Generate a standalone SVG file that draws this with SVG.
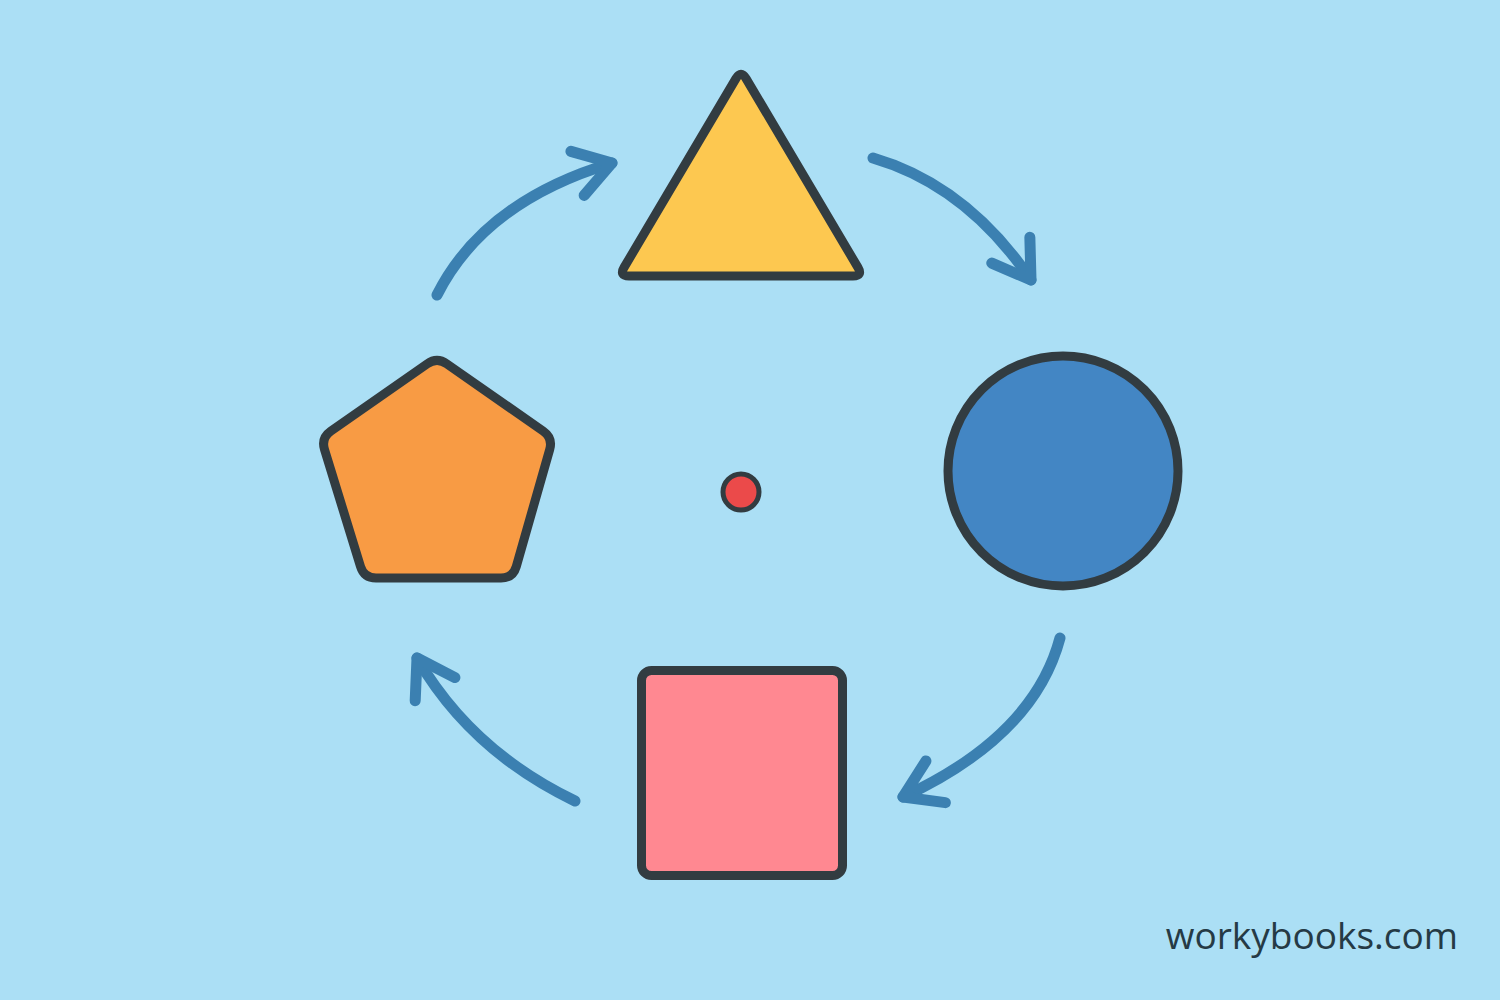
<svg xmlns="http://www.w3.org/2000/svg" width="1500" height="1000" viewBox="0 0 1500 1000">
  <defs>
    <style>
      .shape { stroke: #323c41; stroke-width: 9; stroke-linejoin: round; }
      .conn { fill: none; stroke: #3b80b1; stroke-width: 11; stroke-linecap: round; marker-end: url(#chev); }
      .brand { font-family: "Open Sans", "Noto Sans", "DejaVu Sans", sans-serif; font-size: 37px; fill: #253a45; }
    </style>
    <marker id="chev" markerUnits="userSpaceOnUse" orient="auto" refX="0" refY="0" markerWidth="100" markerHeight="100" viewBox="-50 -50 100 100" overflow="visible">
      <path d="M -36 -23 L 0 0 L -36 23" fill="none" stroke="#3b80b1" stroke-width="11" stroke-linecap="round" stroke-linejoin="round"/>
    </marker>
  </defs>
  <rect x="0" y="0" width="1500" height="1000" fill="#abdff5"/>

  <g id="connectors">
    <path class="conn" d="M 437 295 Q 484 201.5 612 163"/>
    <path class="conn" d="M 873 158 Q 967 185.5 1031 280"/>
    <path class="conn" d="M 1060 638 Q 1034 736 903 797"/>
    <path class="conn" d="M 575 801 Q 471 751 417 658"/>
  </g>

  <g id="triangle">
    <path class="shape" fill="#fdc850" d="M 746.1 78.6 L 857.9 267.4 Q 863 276 853 276 L 629 276 Q 619 276 624.1 267.4 L 735.9 78.6 Q 741 70 746.1 78.6 Z"/>
  </g>
  <g id="circle">
    <circle class="shape" fill="#4386c4" cx="1063" cy="471" r="115"/>
  </g>
  <g id="square">
    <rect class="shape" fill="#ff8891" x="641.5" y="670.5" width="201" height="205" rx="10"/>
  </g>
  <g id="pentagon">
    <path class="shape" fill="#f89b44" d="M 446.8 363.9 L 543.2 431.1 Q 553 438 549.7 449.5 L 516.3 566.5 Q 513 578 501 578 L 376 578 Q 364 578 360.5 566.5 L 324.5 449.5 Q 321 438 330.8 431.1 L 427.2 363.9 Q 437 357 446.8 363.9 Z"/>
  </g>
  <g id="center-dot">
    <circle fill="#eb4a4a" stroke="#323c41" stroke-width="5" cx="741" cy="492" r="18"/>
  </g>

  <text class="brand" x="1458" y="949" text-anchor="end">workybooks.com</text>
</svg>
